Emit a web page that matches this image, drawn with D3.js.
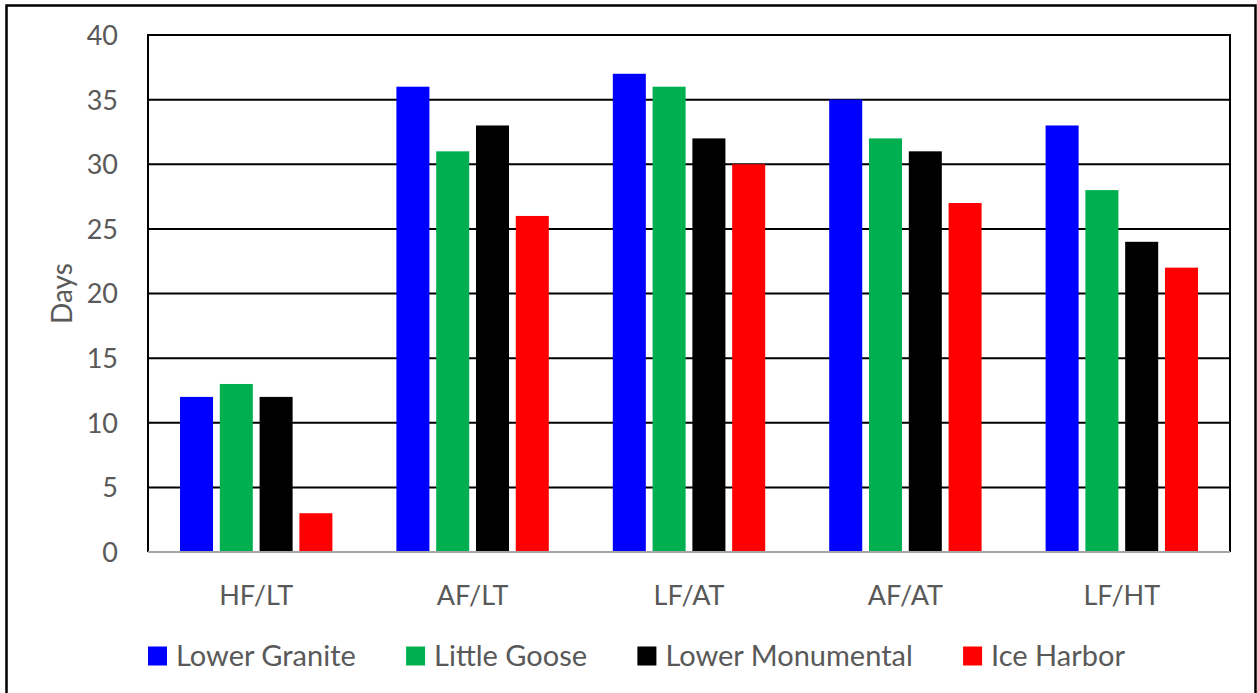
<!DOCTYPE html>
<html>
<head>
<meta charset="utf-8">
<script src="https://cdn.jsdelivr.net/npm/d3@7"></script>
<style>
  html, body { margin: 0; padding: 0; background: #fff; }
  svg { display: block; }
  text { font-family: Lato, "Open Sans", sans-serif; fill: #595959; }
</style>
</head>
<body>
<svg id="chart" width="1257" height="693"></svg>
<script>
const categories = ["HF/LT", "AF/LT", "LF/AT", "AF/AT", "LF/HT"];
const seriesNames = ["Lower Granite", "Little Goose", "Lower Monumental", "Ice Harbor"];
const seriesColors = ["#0000FF", "#00B050", "#000000", "#FF0000"];
const lowerGranite = [12, 36, 37, 35, 33];
const littleGoose = [13, 31, 36, 32, 28];
const lowerMonumental = [12, 33, 32, 31, 24];
const iceHarbor = [3, 26, 30, 27, 22];
const yTicks = [0, 5, 10, 15, 20, 25, 30, 35, 40];
const yLabel = "Days";

const seriesValues = [lowerGranite, littleGoose, lowerMonumental, iceHarbor];

const svg = d3.select("#chart");
const plot = { left: 148, right: 1230, top: 35, bottom: 552 };

// outer border
svg.append("rect").attr("x", 6.5).attr("y", 5.5).attr("width", 1249).attr("height", 690)
  .attr("fill", "#fff").attr("stroke", "#000").attr("stroke-width", 2.5);

const x0 = d3.scaleBand().domain(categories).range([plot.left, plot.right]).padding(0);
const groupPad = 32;
const x1 = d3.scaleBand().domain(seriesNames).range([groupPad, x0.bandwidth() - groupPad]).paddingInner(0.17);
const y = d3.scaleLinear().domain([0, 40]).range([plot.bottom, plot.top]);

// gridlines
svg.append("g").selectAll("line").data(yTicks.filter(t => t > 0)).join("line")
  .attr("x1", plot.left).attr("x2", plot.right)
  .attr("y1", d => y(d)).attr("y2", d => y(d))
  .attr("stroke", "#000").attr("stroke-width", 2);

// plot frame (left, right)
svg.append("line").attr("x1", plot.left).attr("x2", plot.left).attr("y1", plot.top - 1).attr("y2", plot.bottom)
  .attr("stroke", "#000").attr("stroke-width", 2);
svg.append("line").attr("x1", plot.right).attr("x2", plot.right).attr("y1", plot.top - 1).attr("y2", plot.bottom)
  .attr("stroke", "#000").attr("stroke-width", 2);

// bars
const groups = svg.append("g").selectAll("g").data(categories).join("g")
  .attr("transform", d => `translate(${x0(d)},0)`);
groups.selectAll("rect").data((c, ci) => seriesNames.map((s, si) => ({ s, si, v: seriesValues[si][ci] })))
  .join("rect")
  .attr("x", d => x1(d.s)).attr("width", x1.bandwidth())
  .attr("y", d => y(d.v)).attr("height", d => y(0) - y(d.v))
  .attr("fill", d => seriesColors[d.si]);

// x axis baseline
svg.append("line").attr("x1", plot.left).attr("x2", plot.right).attr("y1", plot.bottom).attr("y2", plot.bottom)
  .attr("stroke", "#A6A6A6").attr("stroke-width", 2);

// y axis labels
const yAxis = d3.axisLeft(y).tickValues(yTicks).tickSize(0).tickPadding(0).tickFormat(d3.format("d"));
const yg = svg.append("g").attr("transform", `translate(${plot.left - 30},0)`).call(yAxis);
yg.select(".domain").remove();
yg.selectAll("text").style("font-size", "27px").style("fill", "#595959").style("font-family", "Lato, sans-serif")
  .attr("dy", "0.35em");

// x axis labels
const xAxis = d3.axisBottom(x0).tickSize(0).tickPadding(0);
const xg = svg.append("g").attr("transform", `translate(0,${plot.bottom + 44})`).call(xAxis);
xg.select(".domain").remove();
xg.selectAll("text").style("font-size", "27px").style("fill", "#595959").style("font-family", "Lato, sans-serif")
  .attr("dy", "0.35em");

// y label
svg.append("text").attr("transform", `translate(62,${(plot.top + plot.bottom) / 2}) rotate(-90)`)
  .attr("text-anchor", "middle").attr("dy", "0.35em").style("font-size", "28px").text(yLabel);

// legend
const leg = svg.append("g");
const items = leg.selectAll("g").data(seriesNames).join("g");
items.append("rect").attr("width", 19).attr("height", 19).attr("y", -9.5)
  .attr("fill", (d, i) => seriesColors[i]);
items.append("text").attr("x", 28).attr("dy", "0.35em").style("font-size", "29px").text(d => d);
const widths = [];
items.each(function () { widths.push(28 + d3.select(this).select("text").node().getComputedTextLength()); });
const legendLeft = 148, legendRight = 1125;
const gap = (legendRight - legendLeft - d3.sum(widths)) / (widths.length - 1);
let start = legendLeft;
items.attr("transform", (d, i) => {
  const xx = start; start += widths[i] + gap; return `translate(${xx},656)`;
});
</script>
</body>
</html>
